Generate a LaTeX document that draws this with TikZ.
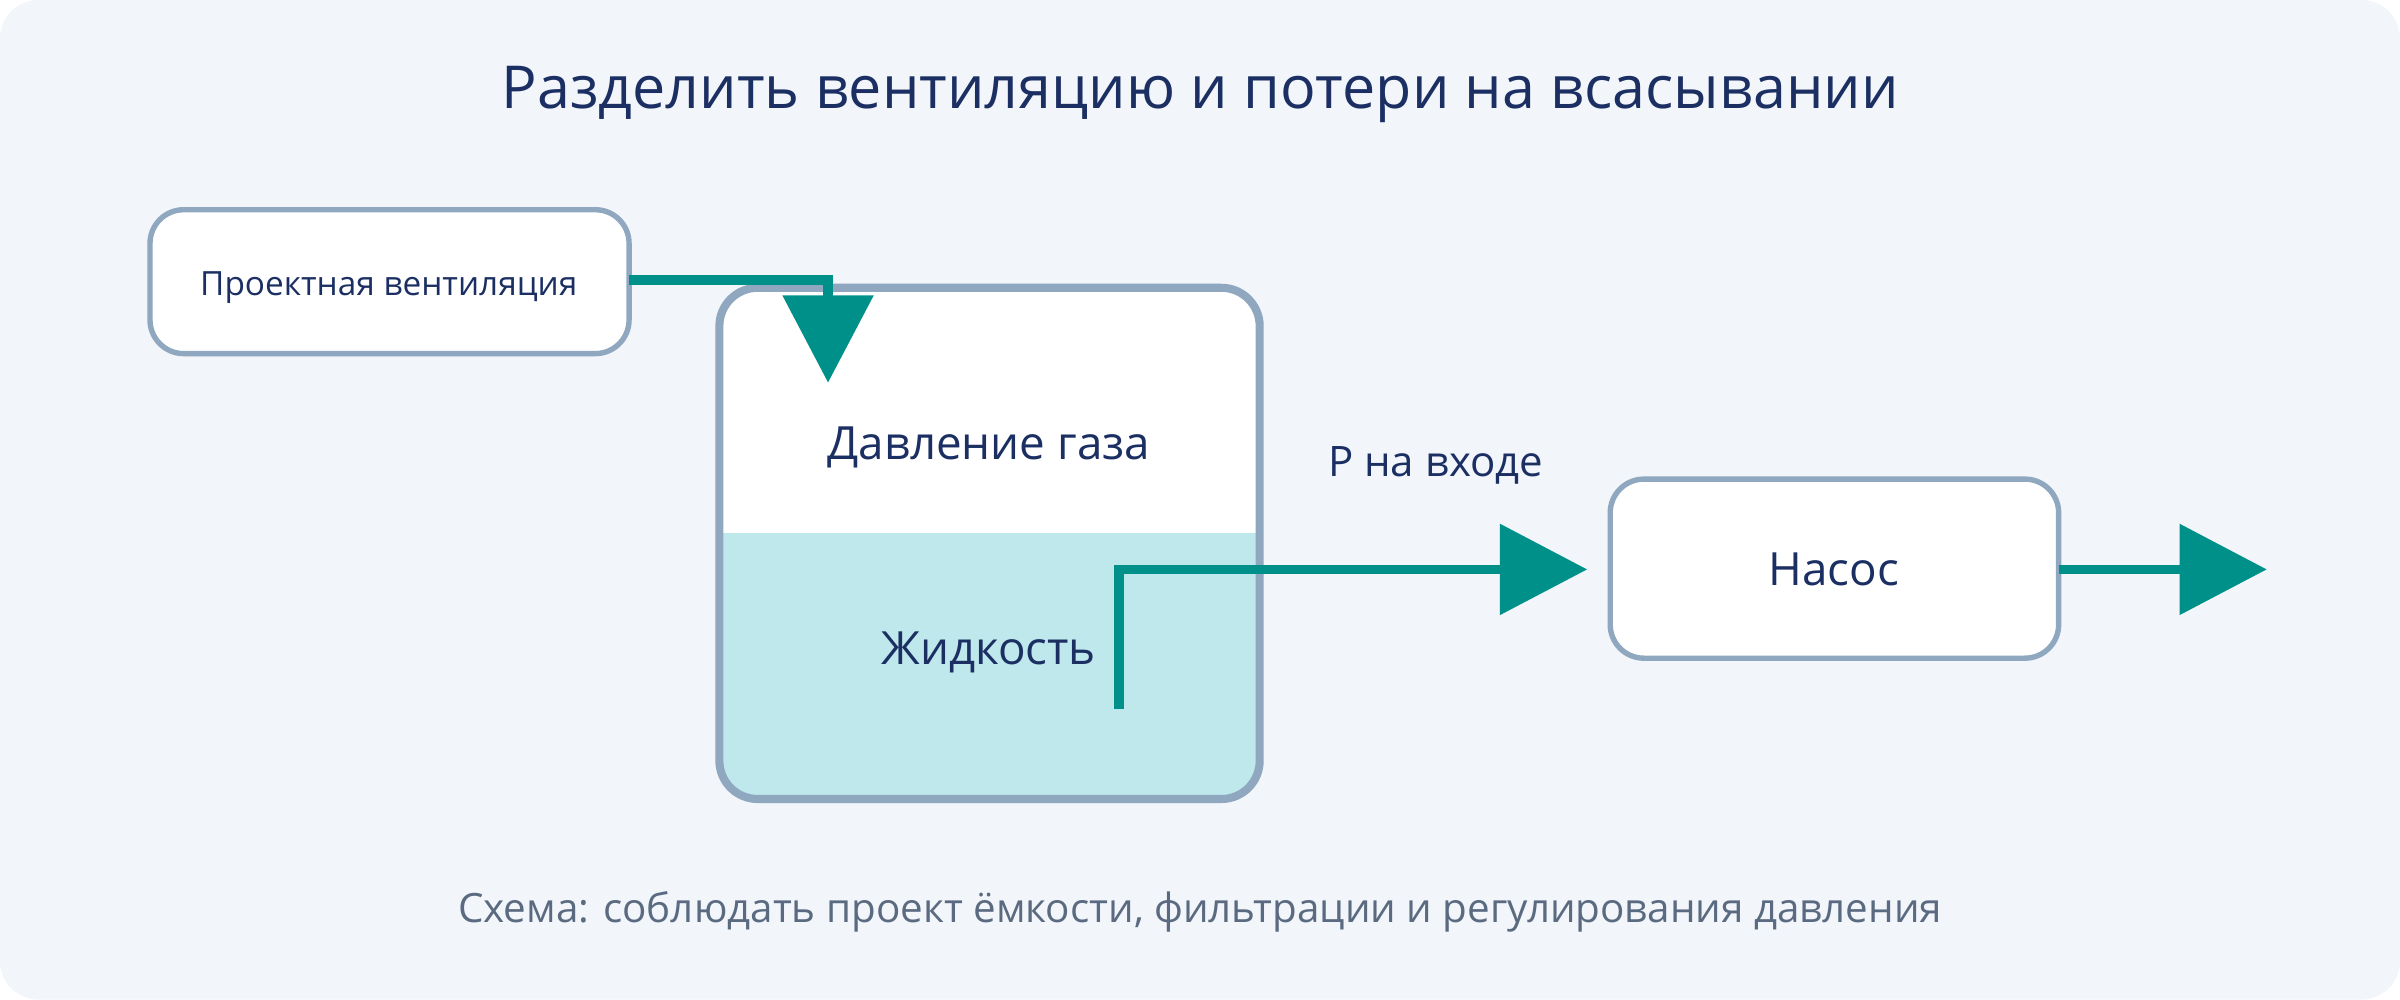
\documentclass[tikz,border=0pt]{standalone}
\usepackage{fontspec}
\setmainfont{Open Sans}
\usetikzlibrary{arrows.meta}
\definecolor{bgcol}{HTML}{F2F5FA}
\definecolor{edgecol}{HTML}{8FA8C0}
\definecolor{inkcol}{HTML}{1B2F63}
\definecolor{pipecol}{HTML}{00908A}
\definecolor{liqcol}{HTML}{BFE8EC}
\definecolor{notecol}{HTML}{5A6A80}
\tikzset{
  box/.style={draw=edgecol, line width=1pt, fill=white, rounded corners=0.22cm},
  pipe/.style={draw=pipecol, line width=1.8pt},
  flow/.style={pipe, -{Triangle[length=0.57cm, width=0.58cm]}},
  lbl/.style={text=inkcol}
}
\begin{document}
\begin{tikzpicture}[x=0.01cm, y=-0.01cm]
    \fill[bgcol, rounded corners=0.25cm] (0,0) rectangle (1568,653);
    \node[lbl, font=\fontsize{11}{13}\selectfont] (title) at (784,62) {Разделить вентиляцию и потери на всасывании};
    % tank
    \fill[white, rounded corners=0.25cm] (470,188) rectangle (823,522);
    \begin{scope}
      \clip[rounded corners=0.23cm] (472,190) rectangle (821,520);
      \fill[liqcol] (472,348) rectangle (821,520);
    \end{scope}
    \draw[edgecol, line width=1.5pt, rounded corners=0.25cm] (470,188) rectangle (823,522);
    \node[lbl, font=\fontsize{8.5}{10}\selectfont] (gas) at (646,292) {Давление газа};
    \node[lbl, font=\fontsize{8.5}{10}\selectfont] (liquid) at (646,426) {Жидкость};
    % boxes
    \draw[box] (98,137) rectangle (411,231);
    \node[lbl, font=\fontsize{6.2}{8}\selectfont] (vent) at (254,188) {Проектная вентиляция};
    \draw[box] (1052,313) rectangle (1345,430);
    \node[lbl, font=\fontsize{8.5}{10}\selectfont] (pump) at (1198,372) {Насос};
    % pipes
    \coordinate (ventout) at (411,183);
    \coordinate (ventin) at (541,250);
    \draw[flow] (ventout) -| (ventin);
    \coordinate (suction) at (731,463);
    \coordinate (pumpin) at (1037,372);
    \draw[flow] (suction) |- (pumpin);
    \node[lbl, font=\fontsize{7.8}{9}\selectfont] (pin) at (938,304) {P на входе};
    \coordinate (pumpout) at (1345,372);
    \coordinate (outlet) at (1481,372);
    \draw[flow] (pumpout) -- (outlet);
    \node[text=notecol, font=\fontsize{7.5}{9}\selectfont] (note) at (784,596) {Схема: соблюдать проект ёмкости, фильтрации и регулирования давления};
\end{tikzpicture}
\end{document}
